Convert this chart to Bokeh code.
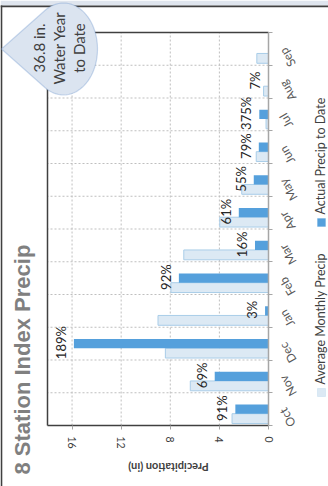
import numpy as np
from bokeh.core.properties import value
from bokeh.embed import file_html
from bokeh.models import (ColumnDataSource, CustomJSTickFormatter, FixedTicker,
                          Label, LabelSet, LinearAxis, PolyAnnotation, Range1d)
from bokeh.plotting import figure
from bokeh.resources import INLINE

# Water-year monthly precipitation, 8 Station Index (inches)
months = ["Oct", "Nov", "Dec", "Jan", "Feb", "Mar",
          "Apr", "May", "Jun", "Jul", "Aug", "Sep"]
avg_precip = [2.97, 6.37, 8.40, 9.00, 7.95, 6.90,
              3.97, 2.18, 1.00, 0.20, 0.40, 0.95]
actual_precip = [2.70, 4.38, 15.85, 0.28, 7.30, 1.10,
                 2.42, 1.20, 0.79, 0.75, 0.028, None]
value_ticks = [0, 4, 8, 12, 16]

title_text = "8 Station Index Precip"
axis_title = "Precipitation (in)"
legend_labels = ["Average Monthly Precip", "Actual Precip to Date"]

# page geometry (pixels): the plot area sits inside a full-page frame
W, H = 328, 486
FL, FR, FT, FB = 47, 268, 32, 425
V_MAX = 18.0
N = len(months)

AVG_FILL, AVG_LINE = "#dce9f4", "#a9cde8"
ACT_FILL = "#55a0dc"
DARK, GREY, GRID = "#404040", "#a6a6a6", "#bfbfbf"
FONT = "Lato"


def px_x(cx):
    """page x pixel -> value coordinate (values grow to the left)"""
    return V_MAX + (cx - FL) * (0.0 - V_MAX) / (FR - FL)


def px_y(cy):
    """page y pixel -> month coordinate (Oct at the bottom)"""
    return (N - 0.5) + (cy - FT) * (-float(N)) / (FB - FT)


idx = np.arange(N, dtype=float)
avg = np.array(avg_precip, dtype=float)
act = np.array([np.nan if v is None else v for v in actual_precip], dtype=float)
bounds = np.arange(-0.5, N, 1.0)

p = figure(width=W, height=H,
           x_range=Range1d(px_x(0), px_x(W)), y_range=Range1d(px_y(H), px_y(0)),
           x_axis_location=None, y_axis_location=None, title_location=None,
           output_backend="svg", toolbar_location=None,
           min_border=0, min_border_left=0, min_border_right=0,
           min_border_top=0, min_border_bottom=0,
           outline_line_color=None,
           background_fill_color="white", border_fill_color="white")
p.grid.visible = False

# value axis along the bottom of the plot area, labels turned sideways
xa = LinearAxis(fixed_location=-0.5, bounds=(0, V_MAX),
                ticker=FixedTicker(ticks=value_ticks))
xa.major_label_orientation = "vertical"
xa.major_label_standoff = 7
xa.major_label_text_font = FONT
xa.major_label_text_font_size = "10.5px"
xa.major_label_text_color = DARK
xa.axis_line_color = DARK
xa.axis_line_width = 1.5
xa.major_tick_out = 4
xa.major_tick_in = 0
xa.major_tick_line_color = GREY
xa.minor_tick_line_color = None
p.add_layout(xa, "below")

# month axis on the right edge of the plot area, ticks between months
ya = LinearAxis(fixed_location=0.0, bounds=(-0.5, N - 0.5),
                ticker=FixedTicker(ticks=list(bounds)),
                formatter=CustomJSTickFormatter(code="return ''"))
ya.axis_line_color = GREY
ya.axis_line_width = 1.5
ya.major_tick_out = 4
ya.major_tick_in = 0
ya.major_tick_line_color = GREY
ya.minor_tick_line_color = None
p.add_layout(ya, "right")

# dashed grid
grid_vals = [v for v in value_ticks if v > 0]
p.segment(x0=grid_vals, x1=grid_vals, y0=-0.5, y1=N - 0.5,
          line_color=GRID, line_dash="2 2", line_width=1)
inner = list(bounds[1:-1])
p.segment(x0=0, x1=V_MAX, y0=inner, y1=inner,
          line_color=GRID, line_dash="2 2", line_width=1)

# bars
p.hbar(y=idx - 0.29, left=0, right=avg, height=0.30,
       fill_color=AVG_FILL, line_color=AVG_LINE, line_width=1)
p.hbar(y=idx, left=0, right=act, height=0.275,
       fill_color=ACT_FILL, line_color=None)

# plot-area border (left and top)
p.segment(x0=[V_MAX, V_MAX], x1=[V_MAX, 0], y0=[-0.5, N - 0.5], y1=[N - 0.5, N - 0.5],
          line_color=DARK, line_width=1.5)

# percent of average labels
has = ~np.isnan(act)
pct_src = ColumnDataSource(dict(
    x=act[has], y=idx[has],
    text=[f"{round(a / b * 100)}%" for a, b in zip(act[has], avg[has])]))
p.add_layout(LabelSet(x="x", y="y", text="text", source=pct_src,
                      angle=np.pi / 2, text_align="center", text_baseline="bottom",
                      x_offset=-5, y_offset=1,
                      text_font=value(FONT), text_font_size="13px", text_color="#262626"))

# month labels
mon_src = ColumnDataSource(dict(x=np.zeros(N), y=idx, text=months))
p.add_layout(LabelSet(x="x", y="y", text="text", source=mon_src,
                      angle=np.radians(120), text_align="right", text_baseline="middle",
                      x_offset=14, y_offset=0,
                      text_font=value(FONT), text_font_size="12px", text_color="#595959"))


# outer frame: light band on top, dark rules on top and left
def rect(x0, y0, x1, y1, **kw):
    p.add_layout(PolyAnnotation(
        xs=[px_x(x0), px_x(x1), px_x(x1), px_x(x0)],
        ys=[px_y(y0), px_y(y0), px_y(y1), px_y(y1)], **kw))


rect(0, 0, W, 5, fill_color="#dfe5ee", fill_alpha=1, line_color=None)
rect(0, 5, W, 6.8, fill_color=DARK, fill_alpha=1, line_color=None)
rect(0, 5, 1.8, H, fill_color=DARK, fill_alpha=1, line_color=None)

# title and value-axis title
p.add_layout(Label(x=px_x(22), y=px_y(474), text=title_text, angle=np.pi / 2,
                   text_align="left", text_baseline="alphabetic",
                   text_font="Liberation Sans", text_font_style="bold",
                   text_font_size="22px", text_color="#808080"))
p.add_layout(Label(x=px_x(168), y=px_y(467), text=axis_title, angle=np.pi,
                   text_align="center", text_baseline="middle",
                   text_font=FONT, text_font_style="bold",
                   text_font_size="11px", text_color=DARK))

# legend
for (sq_top, txt_start), lab, fc, lc in zip([(388, 384), (218, 214)], legend_labels,
                                           [AVG_FILL, ACT_FILL], [AVG_LINE, ACT_FILL]):
    rect(317, sq_top, 325, sq_top + 8, fill_color=fc, fill_alpha=1, line_color=lc, line_width=1)
    p.add_layout(Label(x=px_x(320), y=px_y(txt_start), text=lab, angle=np.pi / 2,
                       text_align="left", text_baseline="middle",
                       text_font=FONT, text_font_size="12.5px", text_color=DARK))

# water-year-to-date callout
total = np.nansum(act)
tip = (1.0, 48.5)
cxe, cye, ra, rb = 63.0, 48.5, 34.0, 46.0
dist = (cxe - tip[0]) / ra
phi_t = np.arccos(1.0 / dist)
phi = np.linspace(np.pi - phi_t, -(np.pi - phi_t), 60)
ex = cxe + ra * np.cos(phi)
ey = cye - rb * np.sin(phi)
p.add_layout(PolyAnnotation(
    xs=[px_x(tip[0])] + [px_x(v) for v in ex],
    ys=[px_y(tip[1])] + [px_y(v) for v in ey],
    fill_color="#dbe4f0", fill_alpha=1, line_color="#5b89c6", line_width=1.2))
for cxl, txt in zip([38, 58, 78], [f"{total:.1f} in.", "Water Year", "to Date"]):
    p.add_layout(Label(x=px_x(cxl), y=px_y(47.5), text=txt, angle=np.pi / 2,
                       text_align="center", text_baseline="middle",
                       text_font=FONT, text_font_size="15px", text_color=DARK))

open("out.html", "w").write(file_html(p, INLINE))
